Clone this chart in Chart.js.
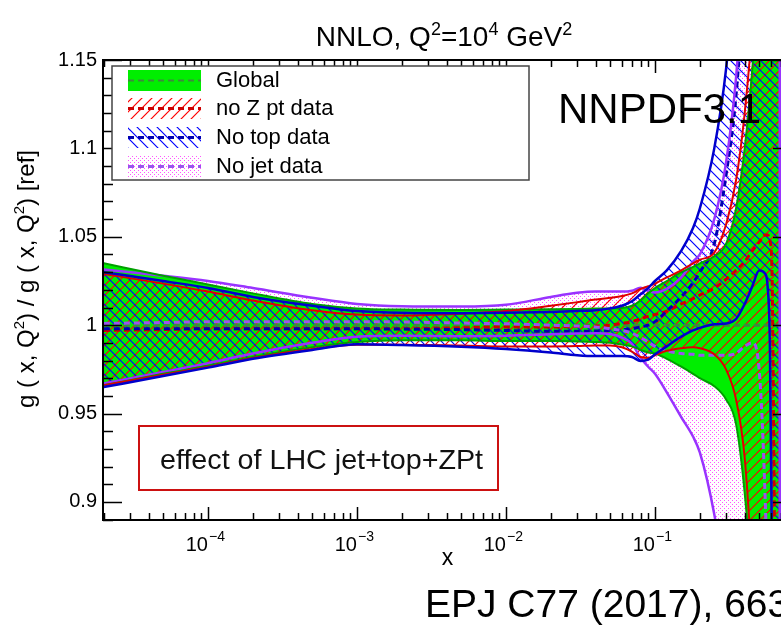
<!DOCTYPE html>
<html><head><meta charset="utf-8">
<script src="https://cdn.jsdelivr.net/npm/chart.js@4.4.1/dist/chart.umd.min.js"></script>
<style>
html,body{margin:0;padding:0;overflow:hidden;background:#fff;width:781px;height:626px;}
#wrap{position:relative;width:800px;height:626px;}
canvas{display:block;}
</style></head><body>
<div id="wrap"><canvas id="c" width="800" height="626"></canvas></div>
<script>
// ---- data ----
const xValues = [2e-5, 5e-5, 1e-4, 2e-4, 5e-4, 1e-3, 2e-3, 5e-3, 1e-2, 2e-2, 3e-2, 4e-2, 5e-2, 6e-2, 7e-2, 8e-2, 9e-2, 0.1, 0.12, 0.15, 0.18, 0.2, 0.25, 0.3, 0.35, 0.4, 0.45, 0.5, 0.55, 0.57, 0.59, 0.61, 0.64, 0.69];

const globalUp  = [1.035, 1.028, 1.023, 1.018, 1.012, 1.0095, 1.0088, 1.0086, 1.0088, 1.009, 1.0092, 1.0094, 1.0095, 1.0097, 1.011, 1.014, 1.018, 1.021, 1.025, 1.030, 1.033, 1.035, 1.039, 1.046, 1.066, 1.10, 1.145, 1.20, 1.27, 1.30, 1.33, 1.36, 1.40, 1.45];
const globalLo  = [0.966, 0.9725, 0.977, 0.982, 0.9875, 0.9905, 0.9915, 0.9915, 0.991, 0.991, 0.9908, 0.9905, 0.990, 0.989, 0.988, 0.986, 0.9845, 0.984, 0.981, 0.9765, 0.9725, 0.970, 0.9655, 0.958, 0.944, 0.905, 0.85, 0.78, 0.72, 0.70, 0.68, 0.66, 0.63, 0.60];
const globalMid = [1, 1, 1, 1, 1, 1, 1, 1, 1, 1, 1, 1, 1, 1, 1, 1, 1, 1, 1, 1, 1, 1, 1, 1, 1, 1, 1, 1, 1, 1, 1, 1, 1, 1];

const noZptUp  = [1.029, 1.0235, 1.019, 1.014, 1.0085, 1.006, 1.0055, 1.0065, 1.008, 1.011, 1.013, 1.0145, 1.0155, 1.0165, 1.018, 1.0205, 1.022, 1.0235, 1.027, 1.031, 1.035, 1.037, 1.041, 1.057, 1.082, 1.12, 1.17, 1.24, 1.30, 1.33, 1.36, 1.40, 1.45, 1.50];
const noZptLo  = [0.966, 0.972, 0.9765, 0.9815, 0.9865, 0.989, 0.989, 0.9885, 0.988, 0.988, 0.9882, 0.9885, 0.9885, 0.9875, 0.985, 0.982, 0.9815, 0.983, 0.9855, 0.987, 0.9875, 0.987, 0.9835, 0.975, 0.958, 0.925, 0.86, 0.78, 0.72, 0.70, 0.68, 0.66, 0.63, 0.60];
const noZptMid = [0.997, 0.9975, 0.998, 0.998, 0.998, 0.998, 0.998, 0.9985, 0.999, 0.999, 0.9992, 0.9995, 1.0, 1.001, 1.002, 1.0035, 1.005, 1.006, 1.008, 1.012, 1.015, 1.017, 1.021, 1.026, 1.031, 1.036, 1.042, 1.047, 1.051, 1.051, 1.048, 1.03, 0.85, 0.70];

const noTopUp  = [1.030, 1.025, 1.021, 1.016, 1.011, 1.008, 1.007, 1.0068, 1.007, 1.0075, 1.008, 1.0085, 1.0095, 1.011, 1.0135, 1.0175, 1.021, 1.025, 1.031, 1.042, 1.055, 1.066, 1.100, 1.145, 1.21, 1.28, 1.35, 1.42, 1.48, 1.50, 1.52, 1.54, 1.57, 1.60];
const noTopLo  = [0.965, 0.9712, 0.976, 0.981, 0.986, 0.9892, 0.9888, 0.9878, 0.9865, 0.9845, 0.983, 0.9825, 0.9825, 0.9825, 0.982, 0.9798, 0.9805, 0.9835, 0.988, 0.9935, 0.997, 0.9985, 1.0005, 1.001, 1.0035, 1.012, 1.022, 1.031, 1.029, 1.022, 0.99, 0.87, 0.75, 0.65];
const noTopMid = [0.998, 0.998, 0.998, 0.998, 0.998, 0.998, 0.9978, 0.9975, 0.997, 0.9965, 0.9965, 0.9967, 0.997, 0.9975, 0.998, 0.999, 1.0, 1.002, 1.008, 1.016, 1.024, 1.030, 1.046, 1.085, 1.13, 1.20, 1.28, 1.35, 1.40, 1.42, 1.44, 1.46, 1.48, 1.50];

const noJetUp  = [1.0315, 1.028, 1.025, 1.021, 1.0155, 1.012, 1.0107, 1.0105, 1.0115, 1.016, 1.0183, 1.019, 1.019, 1.019, 1.0195, 1.0212, 1.0195, 1.0185, 1.0205, 1.027, 1.036, 1.040, 1.060, 1.092, 1.14, 1.21, 1.28, 1.35, 1.40, 1.42, 1.44, 1.46, 1.48, 1.50];
const noJetLo  = [0.967, 0.9735, 0.9785, 0.984, 0.990, 0.9935, 0.994, 0.9938, 0.994, 0.9948, 0.9953, 0.9955, 0.995, 0.993, 0.9895, 0.9815, 0.9765, 0.9725, 0.962, 0.948, 0.937, 0.928, 0.893, 0.85, 0.80, 0.75, 0.70, 0.66, 0.63, 0.62, 0.61, 0.60, 0.59, 0.58];
const noJetMid = [1.001, 1.0015, 1.002, 1.002, 1.002, 1.002, 1.0018, 1.0012, 1.0008, 1.0, 0.9995, 0.999, 0.998, 0.997, 0.9955, 0.993, 0.9905, 0.988, 0.9855, 0.984, 0.9835, 0.983, 0.983, 0.983, 0.984, 0.988, 0.99, 0.975, 0.90, 0.85, 0.80, 0.75, 0.70, 0.65];

const seriesNames = ['Global', 'no Z pt data', 'No top data', 'No jet data'];
const yTickValues = [0.9, 0.95, 1, 1.05, 1.1, 1.15];
const yTickLabels = ['0.9', '0.95', '1', '1.05', '1.1', '1.15'];
const xTickExponents = ['-4', '-3', '-2', '-1'];
const titleParts = [['NNLO, Q', 0], ['2', 1], ['=10', 0], ['4', 1], [' GeV', 0], ['2', 1]];
const yTitleParts = [['g ( x, Q', 0], ['2', 1], [') / g ( x, Q', 0], ['2', 1], [') [ref]', 0]];
const xTitle = 'x';
const tagText = 'NNPDF3.1';
const noteText = 'effect of LHC jet+top+ZPt';
const refText = 'EPJ C77 (2017), 663';

// ---- styles ----
const FONT = '"Liberation Sans", Arial, Helvetica, sans-serif';
const X_MIN = 1.974e-5, X_MAX = 0.831, Y_MIN = 0.8898, Y_MAX = 1.15;
const C = {
  gFill: '#00ee00', gLine: '#00a000', gDash: '#3d8a3d',
  rHatch: '#ff0000', rLine: '#dd0000', rDash: '#cc0000',
  bHatch: '#0000ff', bLine: '#0000cc', bDash: '#0000b0',
  pDots: '#ff55ff', pLine: '#9933ff', pDash: '#9955ee'
};

const canvas = document.getElementById('c');
const mainCtx = canvas.getContext('2d');

// seamless diagonal hatch tile: dir > 0 -> '/', dir < 0 -> '\'
function hatch(color, dir, size, lw) {
  const c = document.createElement('canvas'); c.width = c.height = size;
  const g = c.getContext('2d'); g.strokeStyle = color; g.lineWidth = lw; g.lineCap = 'square';
  g.beginPath();
  for (const o of [-size, 0, size]) {
    if (dir > 0) { g.moveTo(o, size); g.lineTo(o + size, 0); }
    else { g.moveTo(o, 0); g.lineTo(o + size, size); }
  }
  g.stroke();
  return mainCtx.createPattern(c, 'repeat');
}
function dots(color) {
  const c = document.createElement('canvas'); c.width = c.height = 4;
  const g = c.getContext('2d'); g.fillStyle = color;
  g.fillRect(0, 0, 1, 1); g.fillRect(2, 2, 1, 1);
  return mainCtx.createPattern(c, 'repeat');
}
const redPat = hatch(C.rHatch, 1, 10, 1.2);
const bluePat = hatch(C.bHatch, -1, 10, 1.2);
const dotPat = dots(C.pDots);

const pts = arr => xValues.map((x, i) => ({x, y: arr[i]}));
const edge = (lo, up) => [{x: xValues[xValues.length - 1], y: lo[lo.length - 1]}, {x: xValues[xValues.length - 1], y: up[up.length - 1]}];

// fills are drawn from the last dataset to the first: dots, green, red hatch, blue hatch
const base = {pointRadius: 0, pointHoverRadius: 0, cubicInterpolationMode: 'monotone', borderWidth: 2.5};
const datasets = [
  {...base, label: 'noTopUp', data: pts(noTopUp), borderColor: C.bLine, backgroundColor: bluePat, fill: 1},
  {...base, label: 'noTopLo', data: pts(noTopLo), borderColor: C.bLine, fill: false},
  {...base, label: 'noZptUp', data: pts(noZptUp), borderColor: C.rLine, backgroundColor: redPat, fill: 3, borderWidth: 2},
  {...base, label: 'noZptLo', data: pts(noZptLo), borderColor: C.rLine, fill: false, borderWidth: 2},
  {...base, label: 'globalUp', data: pts(globalUp), borderColor: C.gLine, backgroundColor: C.gFill, fill: 5, borderWidth: 2},
  {...base, label: 'globalLo', data: pts(globalLo), borderColor: C.gLine, fill: false, borderWidth: 2},
  {...base, label: 'noJetUp', data: pts(noJetUp), borderColor: C.pLine, backgroundColor: dotPat, fill: 7},
  {...base, label: 'noJetLo', data: pts(noJetLo), borderColor: C.pLine, fill: false},
  {...base, label: 'noJetEdge', data: edge(noJetLo, noJetUp), borderColor: C.pLine, fill: false, borderWidth: 3, cubicInterpolationMode: 'default', tension: 0},
  {...base, label: 'noJetMid', data: pts(noJetMid), borderColor: C.pDash, borderDash: [6, 4], borderWidth: 3, fill: false},
  {...base, label: 'noTopMid', data: pts(noTopMid), borderColor: C.bDash, borderDash: [6, 4], borderWidth: 3, fill: false},
  {...base, label: 'noZptMid', data: pts(noZptMid), borderColor: C.rDash, borderDash: [6, 4], borderWidth: 3, fill: false},
  {...base, label: 'globalMid', data: pts(globalMid), borderColor: C.gDash, borderDash: [6, 4], borderWidth: 3, fill: false}
];

function drawParts(ctx, parts, size, supSize, supRise, x, y, align) {
  const widths = parts.map(p => { ctx.font = (p[1] ? supSize : size) + 'px ' + FONT; return ctx.measureText(p[0]).width; });
  const total = widths.reduce((a, b) => a + b, 0);
  let cx = align === 'center' ? x - total / 2 : x;
  ctx.textAlign = 'left'; ctx.textBaseline = 'alphabetic';
  parts.forEach((p, i) => {
    ctx.font = (p[1] ? supSize : size) + 'px ' + FONT;
    ctx.fillText(p[0], cx, p[1] ? y - supRise : y);
    cx += widths[i];
  });
}

const framePlugin = {
  id: 'frame',
  afterDatasetsDraw(chart) {
    const {ctx, chartArea: a, scales: {x, y}} = chart;
    ctx.save();
    ctx.strokeStyle = '#000'; ctx.lineWidth = 1.5;
    ctx.beginPath();
    for (let d = -5; d <= 0; d++) for (let k = 1; k <= 9; k++) {
      const v = k * Math.pow(10, d);
      if (v <= x.min || v >= x.max) continue;
      const px = Math.round(x.getPixelForValue(v)) + 0.5;
      const L = k === 1 ? 13 : 7;
      ctx.moveTo(px, a.bottom); ctx.lineTo(px, a.bottom - L);
      ctx.moveTo(px, a.top); ctx.lineTo(px, a.top + L);
    }
    for (let i = 89; i <= 115; i++) {
      const v = i / 100;
      if (v < y.min || v > y.max) continue;
      const py = Math.round(y.getPixelForValue(v)) + 0.5;
      const L = i % 5 === 0 ? 19 : 10;
      ctx.moveTo(a.left, py); ctx.lineTo(a.left + L, py);
      ctx.moveTo(a.right, py); ctx.lineTo(a.right - L, py);
    }
    ctx.stroke();
    ctx.lineWidth = 2;
    ctx.strokeRect(a.left, a.top, a.right - a.left, a.bottom - a.top);
    ctx.restore();
  },
  afterDraw(chart) {
    const {ctx, chartArea: a, scales: {x, y}} = chart;
    ctx.save();
    ctx.fillStyle = '#000';
    // x tick labels 10^n
    xTickExponents.forEach(e => {
      const px = x.getPixelForValue(Math.pow(10, Number(e)));
      ctx.font = '20px ' + FONT; ctx.textAlign = 'right'; ctx.textBaseline = 'alphabetic';
      ctx.fillText('10', px, 551);
      ctx.font = '14px ' + FONT; ctx.textAlign = 'left';
      ctx.fillText(e.replace('-', '\u2212'), px + 1, 541);
    });
    // y tick labels
    ctx.font = '20px ' + FONT; ctx.textAlign = 'right'; ctx.textBaseline = 'middle';
    yTickValues.forEach((v, i) => ctx.fillText(yTickLabels[i], a.left - 6, y.getPixelForValue(v)));
    // axis titles
    ctx.font = '23px ' + FONT; ctx.textAlign = 'center'; ctx.textBaseline = 'alphabetic';
    ctx.fillText(xTitle, (a.left + a.right) / 2, 565);
    ctx.save();
    ctx.translate(34, 279); ctx.rotate(-Math.PI / 2);
    drawParts(ctx, yTitleParts, 24, 15, 10, 0, 0, 'center');
    ctx.restore();
    // title
    drawParts(ctx, titleParts, 28, 18, 11, 444, 46, 'center');
    // legend
    const L = {x0: 112, y0: 66, x1: 529, y1: 180};
    ctx.fillStyle = '#fff'; ctx.fillRect(L.x0, L.y0, L.x1 - L.x0, L.y1 - L.y0);
    ctx.strokeStyle = '#444'; ctx.lineWidth = 1.5; ctx.strokeRect(L.x0, L.y0, L.x1 - L.x0, L.y1 - L.y0);
    const rows = [80, 108, 137, 166];
    const fills = [C.gFill, redPat, bluePat, dotPat];
    const dashes = [C.gDash, C.rDash, C.bDash, C.pDash];
    rows.forEach((cy, i) => {
      ctx.fillStyle = fills[i]; ctx.fillRect(128, cy - 10, 73, 21);
      ctx.strokeStyle = dashes[i]; ctx.lineWidth = i === 0 ? 2 : 3; ctx.setLineDash([6, 4]);
      ctx.beginPath(); ctx.moveTo(128, cy + 0.5); ctx.lineTo(201, cy + 0.5); ctx.stroke();
      ctx.setLineDash([]);
      ctx.fillStyle = '#000'; ctx.font = '22px ' + FONT; ctx.textAlign = 'left'; ctx.textBaseline = 'middle';
      ctx.fillText(seriesNames[i], 216, cy + 1);
    });
    // NNPDF3.1 tag
    ctx.fillStyle = '#000'; ctx.font = '42px ' + FONT; ctx.textAlign = 'left'; ctx.textBaseline = 'alphabetic';
    ctx.fillText(tagText, 558, 123);
    // note box
    ctx.fillStyle = '#fff'; ctx.fillRect(139, 426, 359, 64);
    ctx.strokeStyle = '#cc1111'; ctx.lineWidth = 2; ctx.strokeRect(139, 426, 359, 64);
    ctx.fillStyle = '#111'; ctx.font = '28px "Liberation Sans Narrow", ' + FONT; ctx.textBaseline = 'middle';
    const w = ctx.measureText(noteText).width;
    ctx.save(); ctx.translate(160, 461); ctx.scale(323 / w, 1); ctx.fillText(noteText, 0, 0); ctx.restore();
    // reference
    ctx.fillStyle = '#000'; ctx.font = '39px ' + FONT; ctx.textBaseline = 'alphabetic';
    ctx.fillText(refText, 425, 617);
    ctx.restore();
  }
};

new Chart(mainCtx, {
  type: 'line',
  data: {datasets},
  options: {
    responsive: false, animation: false, events: [],
    layout: {padding: {left: 103, top: 60, right: 8, bottom: 106}},
    scales: {
      x: {type: 'logarithmic', min: X_MIN, max: X_MAX, display: false},
      y: {type: 'linear', min: Y_MIN, max: Y_MAX, display: false}
    },
    plugins: {
      legend: {display: false}, tooltip: {enabled: false}, title: {display: false},
      filler: {drawTime: 'beforeDatasetsDraw', propagate: false}
    }
  },
  plugins: [framePlugin]
});
</script>
</body></html>
